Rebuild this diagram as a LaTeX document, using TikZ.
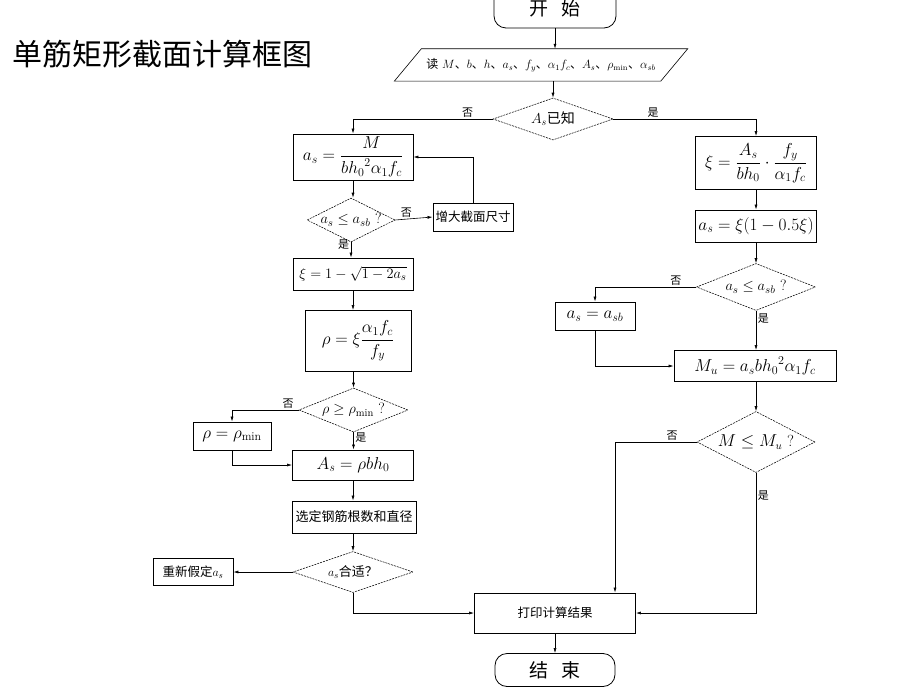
\documentclass[tikz,border=0pt]{standalone}
\usepackage{amsmath}
\usepackage{fontspec}
\newfontfamily\cjk{Noto Sans CJK SC}
\usetikzlibrary{shapes.geometric,arrows.meta}
\tikzset{
  box/.style={draw, line width=0.9pt, inner sep=0pt, font=\fontsize{17}{19}\selectfont},
  cnbox/.style={draw, line width=0.9pt, inner sep=0pt, font=\fontsize{12.5}{14}\cjk},
  dia/.style={draw, diamond, dash pattern=on 2pt off 1pt, line width=0.55pt, inner sep=0pt},
  dtext/.style={inner sep=0pt, font=\fontsize{15}{17}\selectfont},
  term/.style={draw, rounded corners=12pt, line width=0.8pt, inner sep=0pt},
  conn/.style={line width=0.6pt, -{Latex[length=5pt,width=3pt]}},
  plain/.style={line width=0.6pt},
  lbl/.style={font=\fontsize{11}{11}\cjk, inner sep=1.5pt}
}
\begin{document}
\begin{tikzpicture}[x=1pt,y=-1pt]
\useasboundingbox (0,0) rectangle (920,690);
% title
\node[anchor=west, font=\fontsize{30}{30}\cjk, inner sep=0pt] (title) at (12,54) {单筋矩形截面计算框图};
% start / input
\node[term, minimum width=122, minimum height=40, font=\fontsize{19}{19}\cjk] (start) at (555,8) {开\hspace{14pt}始};
\node[minimum width=266, minimum height=32, inner sep=0pt, font=\fontsize{12}{14}\selectfont] (inp) at (541,65)
  {{\cjk 读} $M${\cjk 、}$b${\cjk 、}$h${\cjk 、}$a_s${\cjk 、}$f_y${\cjk 、}$\alpha_1 f_c${\cjk 、}$A_s${\cjk 、}$\rho_{\min}${\cjk 、}$\alpha_{sb}$};
\draw[plain] ([xshift=13.5pt]inp.north west) -- ([xshift=13.5pt]inp.north east) -- ([xshift=-13.5pt]inp.south east) -- ([xshift=-13.5pt]inp.south west) -- cycle;
% decision A_s known
\node[dia, minimum width=120, minimum height=42] (d1) at (553,119) {};
\node[dtext, font=\fontsize{14}{16}\selectfont] (t1) at (d1) {$A_s${\cjk 已知}};
% left column
\node[box, minimum width=120, minimum height=46] (b1) at (353,157) {$a_s=\dfrac{M}{b{h_0}^{2}\alpha_1 f_c}$};
\node[dia, minimum width=88, minimum height=44] (d2) at (351,220) {};
\node[dtext] (t2) at (d2) {$a_s\le a_{sb}$ ?};
\node[cnbox, minimum width=80, minimum height=28] (enl) at (473,217) {增大截面尺寸};
\node[box, minimum width=120, minimum height=32, font=\fontsize{15}{17}\selectfont] (b2) at (353,274) {$\xi=1-\sqrt{1-2a_s}$};
\node[box, minimum width=106, minimum height=61] (b3) at (358,341) {$\rho=\xi\dfrac{\alpha_1 f_c}{f_y}$};
\node[dia, minimum width=109, minimum height=44] (d3) at (353.5,410) {};
\node[dtext] (t3) at (d3) {$\rho\ge\rho_{\min}$ ?};
\node[box, minimum width=78, minimum height=28] (rmin) at (232,436) {$\rho=\rho_{\min}$};
\node[box, minimum width=121, minimum height=30] (b4) at (353,465) {$A_s=\rho bh_0$};
\node[cnbox, minimum width=124, minimum height=32, font=\fontsize{13}{15}\cjk] (b5) at (354,517) {选定钢筋根数和直径};
\node[dia, minimum width=120, minimum height=41] (d4) at (353,572) {};
\node[dtext, font=\fontsize{13}{15}\selectfont] (t4) at (d4) {$a_s${\cjk 合适？}};
\node[cnbox, minimum width=80, minimum height=27] (re) at (193,572) {重新假定$a_s$};
% right column
\node[box, minimum width=121, minimum height=53] (r1) at (756,163) {$\xi=\dfrac{A_s}{bh_0}\cdot\dfrac{f_y}{\alpha_1 f_c}$};
\node[box, minimum width=121, minimum height=32] (r2) at (756,226) {$a_s=\xi(1-0.5\xi)$};
\node[dia, minimum width=119, minimum height=47] (d5) at (756,287) {};
\node[dtext] (t5) at (d5) {$a_s\le a_{sb}$ ?};
\node[box, minimum width=80, minimum height=28] (asb) at (595,316) {$a_s=a_{sb}$};
\node[box, minimum width=162, minimum height=31] (mu) at (755,366) {$M_u=a_s b{h_0}^{2}\alpha_1 f_c$};
\node[dia, minimum width=118, minimum height=61] (d6) at (756,442) {};
\node[dtext, font=\fontsize{16}{18}\selectfont] (t6) at (d6) {$M\le M_u$ ?};
% bottom
\node[cnbox, minimum width=161, minimum height=40] (pr) at (555,613) {打印计算结果};
\node[term, minimum width=120, minimum height=33, font=\fontsize{19}{19}\cjk] (end) at (555,670) {结\hspace{14pt}束};
\coordinate (pin) at ([xshift=60pt]pr.north);
% connectors
\draw[conn] (start.south) -- (start.south |- inp.north);
\draw[conn] (d1.north |- inp.south) -- (d1.north);
\draw[conn] (d1.west) -| node[lbl, pos=0.09, above] {否} (b1.north);
\draw[conn] (d1.east) -| node[lbl, pos=0.14, above] {是} (r1.north);
\draw[conn] (b1.south) -- (b1.south |- d2.north);
\draw[conn] (d2.east) -- node[lbl, pos=0.3, above] {否} (enl.west);
\draw[conn] (enl.north) |- (b1.east);
\draw[conn] (d2.south) -- node[lbl, pos=0.15, left] {是} (d2.south |- b2.north);
\draw[conn] (b2.south) -- (b2.south |- b3.north);
\draw[conn] (d3.north |- b3.south) -- (d3.north);
\draw[conn] (d3.west) -| node[lbl, pos=0.08, above] {否} (rmin.north);
\draw[conn] (d3.south) -- node[lbl, pos=0.3, right] {是} (d3.south |- b4.north);
\draw[conn] (rmin.south) |- (b4.west);
\draw[conn] (b4.south) -- (b4.south |- b5.north);
\draw[conn] (d4.north |- b5.south) -- (d4.north);
\draw[conn] (d4.west) -- (re.east);
\draw[conn] (d4.south) |- (pr.west);
\draw[conn] (pr.south) -- (end.north);
\draw[conn] (r1.south) -- (r2.north);
\draw[conn] (r2.south) -- (r2.south |- d5.north);
\draw[conn] (d5.west) -| node[lbl, pos=0.1, above] {否} (asb.north);
\draw[conn] (d5.south) -- node[lbl, pos=0.2, right] {是} (d5.south |- mu.north);
\draw[conn] (asb.south) |- (mu.west);
\draw[conn] (d6.north |- mu.south) -- (d6.north);
\draw[conn] (d6.west) -| node[lbl, pos=0.15, above] {否} (pin);
\draw[conn] (d6.south) |- node[lbl, pos=0.08, right] {是} (pr.east);
\end{tikzpicture}
\end{document}
